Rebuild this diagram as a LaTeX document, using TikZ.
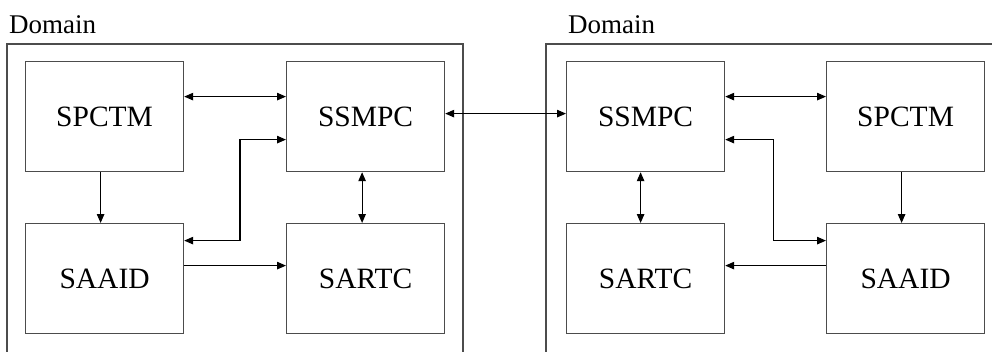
\documentclass[tikz,border=0pt]{standalone}
\usepackage{fontspec}
\setmainfont{Liberation Serif}
\usetikzlibrary{arrows.meta}
\begin{document}
\begin{tikzpicture}[x=1pt,y=-1pt,
  comp/.style={draw=black!70,line width=1.2pt,minimum width=158pt,minimum height=110pt,inner sep=0pt,anchor=north west,font=\fontsize{29.5}{32}\selectfont},
  conn/.style={line width=1.1pt,black,arrows={-Triangle[length=9pt,width=7.5pt]}},
  bconn/.style={line width=1.1pt,black,arrows={Triangle[length=9pt,width=7.5pt]-Triangle[length=9pt,width=7.5pt]}},
  frame/.style={draw=black!70,line width=1.2pt},
  lbl/.style={anchor=base west,inner sep=0pt,font=\fontsize{27}{30}\selectfont}]
\useasboundingbox (0,0) rectangle (992,351);
% frames
\draw[frame] (7,360) -- (7,44) -- (463,44) -- (463,360);
\draw[frame] (546,360) -- (546,44) -- (1000,44);
\node[lbl] (domL) at (9,33) {Domain};
\node[lbl] (domR) at (568,33) {Domain};
% left domain
\node[comp] (spctmL) at (25,61) {SPCTM};
\node[comp] (ssmpcL) at (286,61) {SSMPC};
\node[comp] (saaidL) at (25,223) {SAAID};
\node[comp] (sartcL) at (286,223) {SARTC};
% right domain
\node[comp] (ssmpcR) at (566,61) {SSMPC};
\node[comp] (spctmR) at (826,61) {SPCTM};
\node[comp] (sartcR) at (566,223) {SARTC};
\node[comp] (saaidR) at (826,223) {SAAID};
% left connectors
\draw[bconn] ([yshift=20pt]spctmL.east) -- ([yshift=20pt]ssmpcL.west);
\draw[conn] ([xshift=-4pt]spctmL.south) -- ([xshift=-4pt]saaidL.north);
\draw[bconn] ([xshift=-3.5pt]ssmpcL.south) -- ([xshift=-3.5pt]sartcL.north);
\draw[conn] ([yshift=13pt]saaidL.east) -- ([yshift=13pt]sartcL.west);
\draw[bconn] ([yshift=-23pt]ssmpcL.west) -- ++(-46,0) |- ([yshift=38pt]saaidL.east);
% inter-domain
\draw[bconn] ([yshift=3pt]ssmpcL.east) -- ([yshift=3pt]ssmpcR.west);
% right connectors
\draw[bconn] ([yshift=20pt]ssmpcR.east) -- ([yshift=20pt]spctmR.west);
\draw[conn] ([xshift=-4pt]spctmR.south) -- ([xshift=-4pt]saaidR.north);
\draw[bconn] ([xshift=-5pt]ssmpcR.south) -- ([xshift=-5pt]sartcR.north);
\draw[conn] ([yshift=13pt]saaidR.west) -- ([yshift=13pt]sartcR.east);
\draw[bconn] ([yshift=-23pt]ssmpcR.east) -- ++(48,0) |- ([yshift=38pt]saaidR.west);
\end{tikzpicture}
\end{document}
